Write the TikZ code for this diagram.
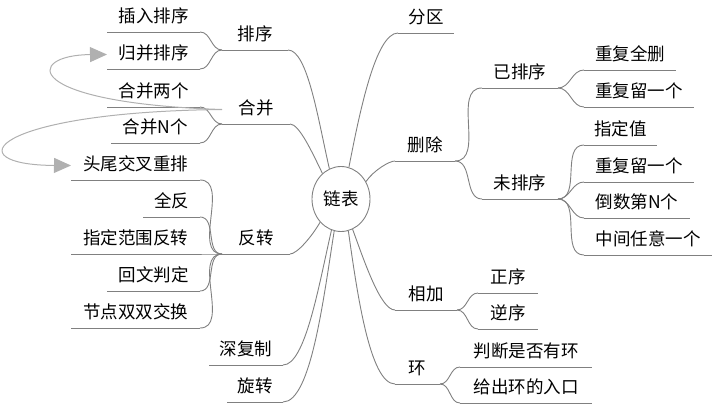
\documentclass[tikz,border=0pt]{standalone}
\usepackage{fontspec}
\setmainfont{Noto Sans CJK SC}
\usetikzlibrary{shapes.geometric,arrows.meta}
\definecolor{linegray}{RGB}{128,128,128}
\definecolor{relgray}{RGB}{176,176,176}

\begin{document}
\begin{tikzpicture}[x=1pt, y=1pt,
  font=\fontsize{17.5pt}{20pt}\selectfont,
  uline/.style={draw=linegray, line width=0.9pt},
  topic/.style={minimum width=#1, anchor=south west, inner xsep=0pt, inner ysep=6.5pt,
    text height=13pt, text depth=3pt, outer sep=0pt,
    append after command={(\tikzlastnode.south west) edge[uline] (\tikzlastnode.south east)}},
  link/.style={draw=linegray, line width=0.9pt},
  rel/.style={draw=relgray, line width=1pt, -{Triangle[length=17pt,width=15pt]}}]
  \useasboundingbox (0,0) rectangle (712,-404);

  % Center
  \node[draw=linegray, line width=0.9pt, ellipse, minimum width=58pt, minimum height=65pt, inner sep=0pt] (root) at (341,-199) {链表};

  % Left side
  \node[topic=66pt] (sort) at (222,-50) {排序};
  \node[topic=93pt] (insert) at (107,-32) {插入排序};
  \node[topic=93pt] (msort) at (107,-69) {归并排序};

  \node[topic=68pt] (merge) at (222,-124) {合并};
  \node[topic=93pt] (mtwo) at (107,-107) {合并两个};
  \node[topic=89pt] (mn) at (111,-143) {合并N个};

  \node[topic=68pt] (rev) at (222,-254) {反转};
  \node[topic=129pt] (headtail) at (71,-180) {头尾交叉重排};
  \node[topic=57pt] (allrev) at (143,-217) {全反};
  \node[topic=129pt] (range) at (71,-254) {指定范围反转};
  \node[topic=93pt] (palin) at (107,-291) {回文判定};
  \node[topic=129pt] (swap) at (71,-328) {节点双双交换};

  \node[topic=74pt] (deep) at (209,-365) {深复制};
  \node[topic=56pt] (rot) at (227,-402) {旋转};

  % Right side
  \node[topic=56pt] (part) at (398,-33) {分区};

  \node[topic=60pt] (del) at (395,-161) {删除};
  \node[topic=76pt] (sorted) at (482,-88) {已排序};
  \node[topic=92pt] (dupall) at (584,-70) {重复全删};
  \node[topic=110pt] (dupone) at (584,-107) {重复留一个};
  \node[topic=76pt] (unsorted) at (482,-199) {未排序};
  \node[topic=73pt] (val) at (584,-145) {指定值};
  \node[topic=110pt] (duptwo) at (584,-182) {重复留一个};
  \node[topic=106pt] (lastn) at (584,-218) {倒数第N个};
  \node[topic=128pt] (mid) at (584,-255) {中间任意一个};

  \node[topic=62pt] (add) at (395,-310) {相加};
  \node[topic=60pt] (fwd) at (478,-293) {正序};
  \node[topic=60pt] (bwd) at (478,-329) {逆序};

  \node[topic=45pt] (ring) at (395,-384) {环};
  \node[topic=132pt] (hasc) at (460,-367) {判断是否有环};
  \node[topic=132pt] (entry) at (460,-403) {给出环的入口};

  % Main branches
  \draw[link] (root.111) to[out=103, in=0, in looseness=0.4] (sort.south east);
  \draw[link] (root.126) to[out=116, in=0, in looseness=0.4] (merge.south east);
  \draw[link] (root.228) to[out=240, in=0, in looseness=0.4] (rev.south east);
  \draw[link] (root.253) to[out=257, in=0, in looseness=0.4] (deep.south east);
  \draw[link] (root.258) to[out=261, in=0, in looseness=0.4] (rot.south east);
  \draw[link] (root.76) to[out=79, in=180, in looseness=0.4] (part.south west);
  \draw[link] (root.35) to[out=55, in=180, in looseness=0.4] (del.south west);
  \draw[link] (root.291) to[out=290, in=180, in looseness=0.4] (add.south west);
  \draw[link] (root.283) to[out=278, in=180, in looseness=0.4] (ring.south west);

  % Sub branches
  \draw[link] (sort.south west) to[out=180, in=0] (insert.south east);
  \draw[link] (sort.south west) to[out=180, in=0] (msort.south east);
  \draw[link] (merge.south west) to[out=180, in=0] (mtwo.south east);
  \draw[link] (merge.south west) to[out=180, in=0] (mn.south east);
  \draw[link] (rev.south west) to[out=180, in=0] (headtail.south east);
  \draw[link] (rev.south west) to[out=180, in=0] (allrev.south east);
  \draw[link] (rev.south west) to[out=180, in=0] (range.south east);
  \draw[link] (rev.south west) to[out=180, in=0] (palin.south east);
  \draw[link] (rev.south west) to[out=180, in=0] (swap.south east);

  \draw[link] (del.south east) to[out=0, in=180] (sorted.south west);
  \draw[link] (del.south east) to[out=0, in=180] (unsorted.south west);
  \draw[link] (sorted.south east) to[out=0, in=180] (dupall.south west);
  \draw[link] (sorted.south east) to[out=0, in=180] (dupone.south west);
  \draw[link] (unsorted.south east) to[out=0, in=180] (val.south west);
  \draw[link] (unsorted.south east) to[out=0, in=180] (duptwo.south west);
  \draw[link] (unsorted.south east) to[out=0, in=180] (lastn.south west);
  \draw[link] (unsorted.south east) to[out=0, in=180] (mid.south west);
  \draw[link] (add.south east) to[out=0, in=180] (fwd.south west);
  \draw[link] (add.south east) to[out=0, in=180] (bwd.south west);
  \draw[link] (ring.south east) to[out=0, in=180] (hasc.south west);
  \draw[link] (ring.south east) to[out=0, in=180] (entry.south west);

  % Relations
  \draw[rel] (merge.west) .. controls (20,-103) and (25,-55) .. (msort.west);
  \draw[rel] (merge.west) .. controls (-10,-112) and (-45,-165) .. (headtail.west);
\end{tikzpicture}
\end{document}
